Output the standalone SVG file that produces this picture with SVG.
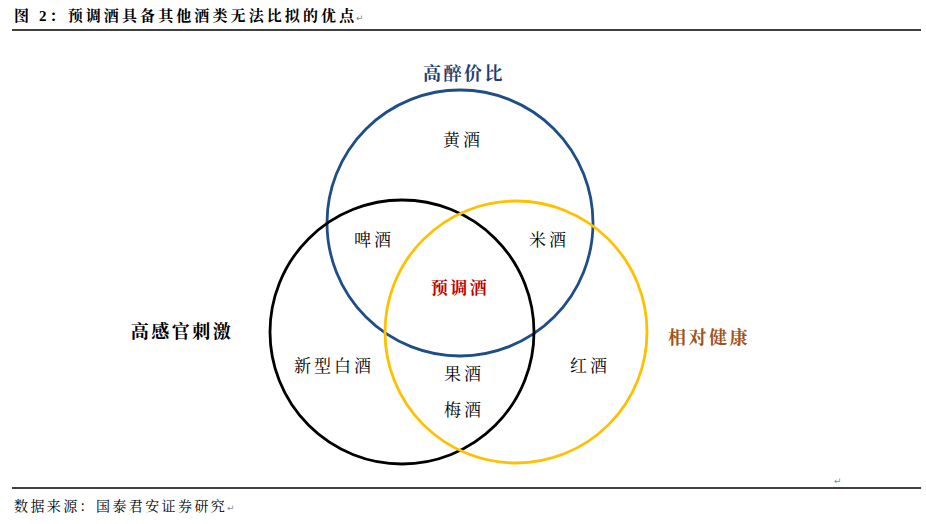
<svg xmlns="http://www.w3.org/2000/svg" width="926" height="524" viewBox="0 0 926 524">
<style>
.t{font-family:"Liberation Serif","Noto Serif CJK SC","Noto Sans CJK SC",serif;}
.lbl{font-size:17px;fill:#000;text-anchor:middle;letter-spacing:3px;}
.hdr{font-size:18px;font-weight:bold;text-anchor:middle;letter-spacing:2.5px;}
.circ{fill:none;stroke-width:2.8;}
.mark{font-family:"DejaVu Sans",sans-serif;font-size:9px;fill:#888;}
</style>
<rect width="926" height="524" fill="#fff"/>
<g id="title">
<text class="t" x="14" y="21" font-size="15" font-weight="bold" fill="#000" letter-spacing="3.1">图 2：预调酒具备其他酒类无法比拟的优点</text>
<text class="mark" x="356" y="21">↵</text>
</g>
<line x1="12" y1="30" x2="921" y2="30" stroke="#000" stroke-width="1.5"/>
<g id="circles">
<circle id="c-blue" class="circ" cx="460" cy="223" r="133" stroke="#1f4e86"/>
<circle id="c-black" class="circ" cx="402" cy="332" r="132" stroke="#000"/>
<circle id="c-yellow" class="circ" cx="516" cy="332" r="131" stroke="#ffc000"/>
</g>
<g id="n-blue-title"><text class="t hdr" x="464" y="80" fill="#1f3f74">高醉价比</text></g>
<g id="n-black-title"><text class="t hdr" x="182" y="338" fill="#000">高感官刺激</text></g>
<g id="n-yellow-title"><text class="t hdr" x="709" y="344" fill="#a0521a">相对健康</text></g>
<g id="n-huangjiu"><text class="t lbl" x="463" y="146">黄酒</text></g>
<g id="n-pijiu"><text class="t lbl" x="374" y="246">啤酒</text></g>
<g id="n-mijiu"><text class="t lbl" x="549" y="246">米酒</text></g>
<g id="n-yutiaojiu"><text class="t lbl" x="460" y="294" font-weight="bold" style="fill:#c00000;letter-spacing:2.5px">预调酒</text></g>
<g id="n-xinxing"><text class="t lbl" x="334" y="372">新型白酒</text></g>
<g id="n-hongjiu"><text class="t lbl" x="590" y="372">红酒</text></g>
<g id="n-guojiu"><text class="t lbl" x="464" y="380">果酒</text></g>
<g id="n-meijiu"><text class="t lbl" x="464" y="416">梅酒</text></g>
<text class="mark" x="834" y="484">↵</text>
<line x1="12" y1="488" x2="921" y2="488" stroke="#000" stroke-width="1.5"/>
<g id="source">
<text class="t" x="14" y="511" font-size="14" fill="#000" letter-spacing="2.4">数据来源：国泰君安证券研究</text>
<text class="mark" x="227" y="511">↵</text>
</g>
</svg>
